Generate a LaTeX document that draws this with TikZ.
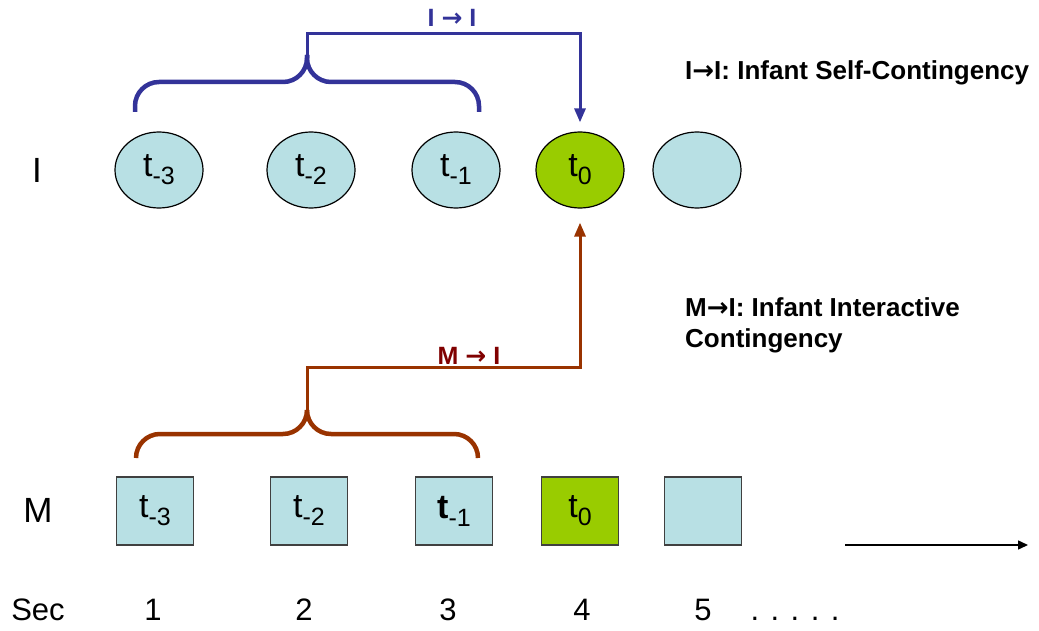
\documentclass[tikz,border=0pt]{standalone}
\usepackage{fontspec}
\setmainfont{Liberation Sans}
\newfontfamily\arrowfont{DejaVu Sans}
\usetikzlibrary{shapes.geometric,arrows.meta}

\definecolor{slotblue}{HTML}{B8E0E4}
\definecolor{nowgreen}{HTML}{99CC00}
\definecolor{selfblue}{HTML}{333399}
\definecolor{interbrown}{HTML}{993300}
\definecolor{interred}{HTML}{800000}

\newcommand{\lag}[2][t]{#1\raisebox{-8pt}{\fontsize{25}{25}\selectfont #2}}
\newcommand{\tto}{{\arrowfont →}}

\begin{document}
\begin{tikzpicture}
    [x=1pt, y=-1pt,
     font=\fontsize{31}{31}\selectfont,
     islot/.style={ellipse, draw, line width=1.2pt, fill=slotblue,
                   minimum width=88pt, minimum height=76pt, inner sep=0pt,
                   font=\fontsize{34}{34}\selectfont},
     mslot/.style={rectangle, draw=black!75, line width=1.5pt, fill=slotblue,
                   minimum width=77pt, minimum height=68pt, inner sep=0pt,
                   font=\fontsize{34}{34}\selectfont},
     brace/.style={line width=4.5pt, rounded corners=24pt},
     link/.style={line width=3pt, -{Triangle[length=14pt,width=11pt]}}]

    \useasboundingbox (0,0) rectangle (1039,631);

    \node at (37, 170) (rowi) {\fontsize{35}{35}\selectfont I};
    \node at (38, 510) (rowm) {\fontsize{35}{35}\selectfont M};
    \node [anchor=base] at (38, 620) (sec) {Sec};

    \node [islot] at (159, 170) (i1) {\lag{-3}};
    \node [islot] at (311, 170) (i2) {\lag{-2}};
    \node [islot] at (456, 170) (i3) {\lag{-1}};
    \node [islot, fill=nowgreen] at (580, 170) (i4) {\lag{0}};
    \node [islot] at (697, 170) (i5) {};

    \node [mslot] at (155, 511) (m1) {\lag{-3}};
    \node [mslot] at (309, 511) (m2) {\lag{-2}};
    \node [mslot] at (454, 511) (m3) {\lag[\textbf{t}]{-1}};
    \node [mslot, fill=nowgreen] at (580, 511) (m4) {\lag{0}};
    \node [mslot] at (703, 511) (m5) {};

    \node [anchor=base] at (153, 620) (s1) {1};
    \node [anchor=base] at (304, 620) (s2) {2};
    \node [anchor=base] at (448, 620) (s3) {3};
    \node [anchor=base] at (582, 620) (s4) {4};
    \node [anchor=base] at (703, 620) (s5) {5};
    \node [anchor=base] at (795, 620) (dots) {. . . . .};

    % I -> I
    \coordinate (iapex) at (307, 55);
    \draw [brace, selfblue] (135, 112) |- (307, 82) -- (iapex);
    \draw [brace, selfblue] (479, 112) |- (307, 82) -- (iapex);
    \draw [link, selfblue, shorten >=9pt] (iapex) -- (307, 34) -| (i4.north);
    \node [anchor=base, selfblue, font=\fontsize{25}{25}\selectfont\bfseries]
        at (452, 27) (selflab) {I \tto{} I};

    % M -> I
    \coordinate (mapex) at (307, 410);
    \draw [brace, interbrown] (136, 458) |- (307, 434) -- (mapex);
    \draw [brace, interbrown] (478, 458) |- (307, 434) -- (mapex);
    \draw [link, interbrown, shorten >=14pt] (mapex) -- (307, 367) -| (i4.south);
    \node [anchor=base, interred, font=\fontsize{25}{25}\selectfont\bfseries]
        at (469, 364) (interlab) {M \tto{} I};

    \node [anchor=base west, inner sep=0pt, font=\fontsize{26}{26}\selectfont\bfseries]
        at (685, 80) (selfnote) {I\tto{}I: Infant Self-Contingency};
    \node [anchor=north west, inner sep=0pt, align=left,
           font=\fontsize{26}{31}\selectfont\bfseries]
        at (685, 297) (internote) {M\tto{}I: Infant Interactive\\Contingency};

    \coordinate (tstart) at (845, 545);
    \coordinate (tend) at (1028, 545);
    \draw [line width=1.5pt, -{Triangle[length=10pt,width=9pt]}] (tstart) -- (tend);

  \end{tikzpicture}
\end{document}
